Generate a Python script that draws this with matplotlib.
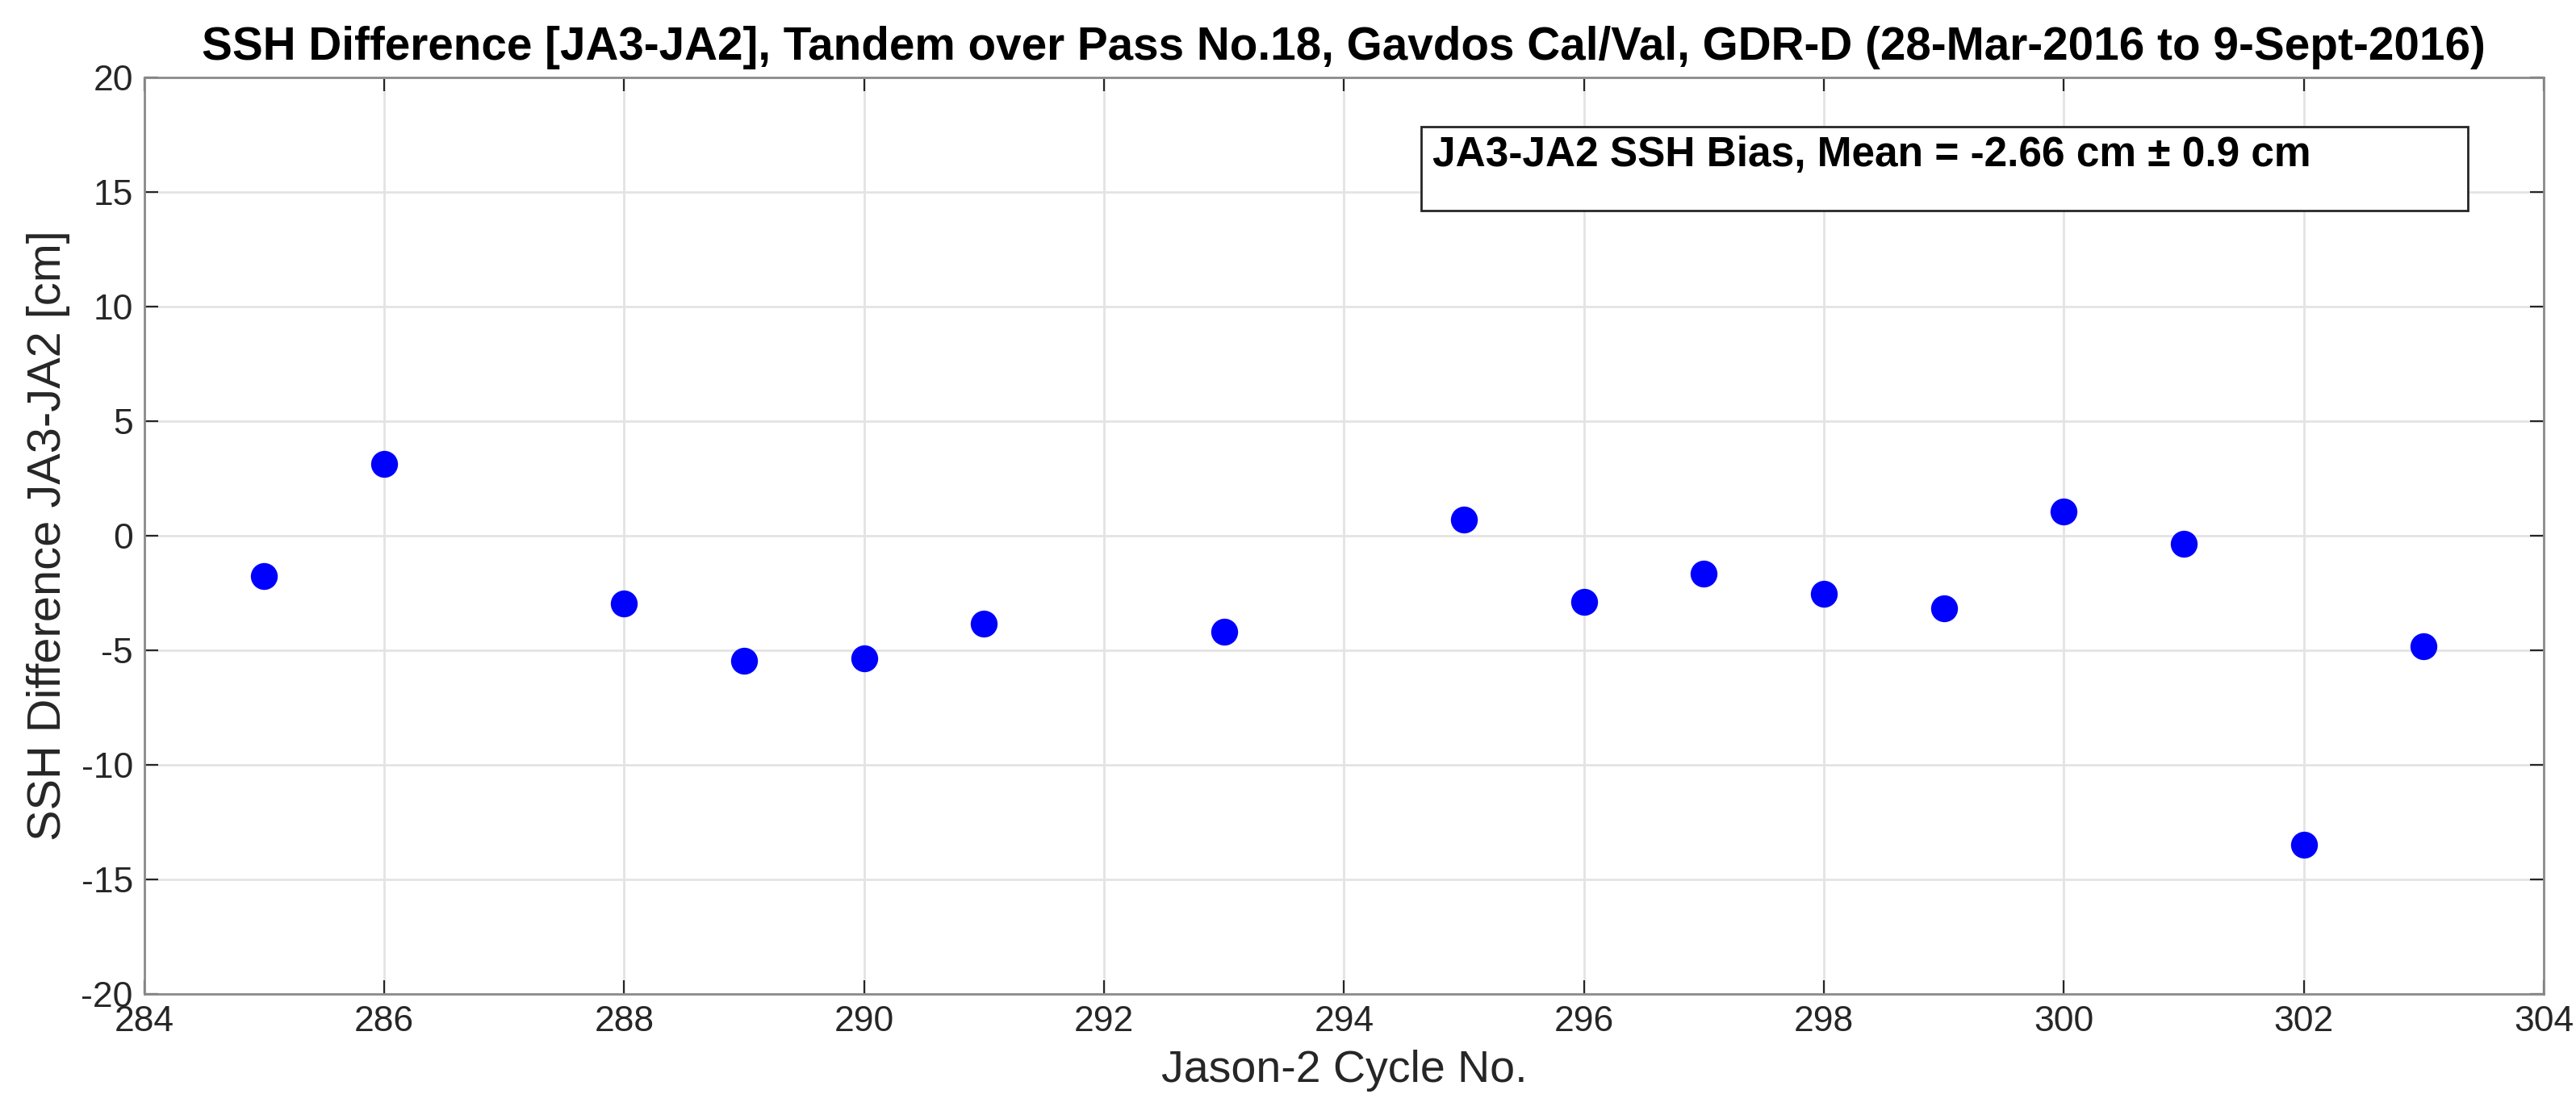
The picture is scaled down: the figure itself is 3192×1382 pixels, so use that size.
import matplotlib
matplotlib.use('Agg')
from matplotlib import pyplot as plt
from matplotlib.patches import Rectangle

plt.rcParams['font.family'] = ['Liberation Sans', 'DejaVu Sans']
plt.rcParams['axes.unicode_minus'] = False

# Jason-2 cycle numbers and JA3-JA2 SSH differences [cm]
cycles = [285, 286, 288, 289, 290, 291, 293, 295, 296, 297, 298, 299, 300, 301, 302, 303]
ssh_diff = [-1.75, 3.15, -2.95, -5.45, -5.34, -3.85, -4.20, 0.71, -2.89, -1.67, -2.53, -3.15,
            1.06, -0.35, -13.5, -4.81]

x_ticks = list(range(284, 305, 2))
y_ticks = list(range(-20, 21, 5))

title = 'SSH Difference [JA3-JA2], Tandem over Pass No.18, Gavdos Cal/Val, GDR-D (28-Mar-2016 to 9-Sept-2016)'
bias_text = 'JA3-JA2 SSH Bias, Mean = -2.66 cm \u00b1 0.9 cm'

fig = plt.figure(figsize=(15.96, 6.91), dpi=200)
ax = fig.add_axes([0.056, 0.1085, 0.9315, 0.822])

ax.plot(cycles, ssh_diff, 'o', color=(0, 0, 1), markersize=12, markeredgewidth=0, zorder=3)

ax.set_xlim(284, 304)
ax.set_ylim(-20, 20)
ax.set_xticks(x_ticks)
ax.set_yticks(y_ticks)
ax.grid(True, color='#e3e3e3', linewidth=1.0)
ax.set_axisbelow(True)
ax.tick_params(direction='in', length=6, width=0.8, color='#262626', labelsize=16,
               labelcolor='#262626', top=True, right=True)
ax.tick_params(axis='x', pad=5)
ax.tick_params(axis='y', pad=5)
for s in ax.spines.values():
    s.set_color('#8a8a8a')
    s.set_linewidth(1.0)

ax.set_xlabel('Jason-2 Cycle No.', fontsize=20, color='#262626', labelpad=5)
ax.set_ylabel('SSH Difference JA3-JA2 [cm]', fontsize=20.8, color='#262626', labelpad=5)
ax.set_title(title, fontsize=20.4, fontweight='bold', pad=8)

# annotation box
box = Rectangle((0.532, 0.855), 0.4365, 0.091, transform=ax.transAxes, facecolor='white',
                edgecolor='#262626', linewidth=1.0, zorder=4)
ax.add_patch(box)
ax.text(0.537, 0.937, bias_text, transform=ax.transAxes, fontsize=18.5, fontweight='bold',
        va='top', ha='left', zorder=5)

fig.savefig('out.png', dpi=200)
